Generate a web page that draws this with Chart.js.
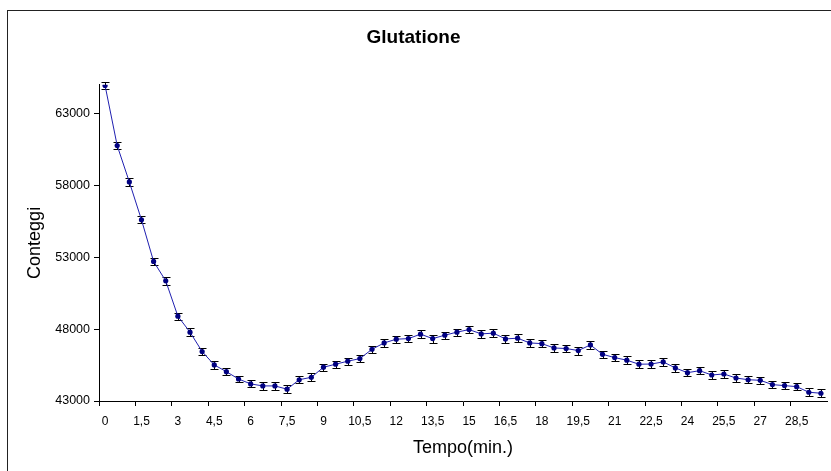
<!DOCTYPE html>
<html>
<head>
<meta charset="utf-8">
<script src="https://cdn.jsdelivr.net/npm/chart.js@4/dist/chart.umd.min.js"></script>
<style>
  html, body { margin: 0; padding: 0; background: #fff; overflow: hidden; }
  #wrap { position: relative; width: 831px; height: 471px; }
  #frame { position: absolute; left: 7px; top: 10px; width: 900px; height: 600px; border: 1px solid #222; box-sizing: border-box; }
  #grafico { position: absolute; left: 0; top: 0; }
</style>
</head>
<body>
<div id="wrap">
  <div id="frame"></div>
  <canvas id="grafico" width="831" height="471"></canvas>
</div>
<script>
// Tempo di acquisizione (min.)
const tempi = [0, 0.5, 1, 1.5, 2, 2.5, 3, 3.5, 4, 4.5, 5, 5.5, 6, 6.5, 7, 7.5, 8, 8.5, 9, 9.5,
  10, 10.5, 11, 11.5, 12, 12.5, 13, 13.5, 14, 14.5, 15, 15.5, 16, 16.5, 17, 17.5, 18, 18.5, 19, 19.5,
  20, 20.5, 21, 21.5, 22, 22.5, 23, 23.5, 24, 24.5, 25, 25.5, 26, 26.5, 27, 27.5, 28, 28.5, 29, 29.5];

// Conteggi medi
const conteggi = [64950, 60770, 58240, 55610, 52710, 51360, 48900, 47790, 46440, 45510,
  45040, 44530, 44190, 44050, 44050, 43820, 44480, 44650, 45350, 45560,
  45770, 45950, 46600, 47040, 47300, 47340, 47650, 47340, 47580, 47790,
  47970, 47670, 47720, 47320, 47370, 47040, 46990, 46690, 46650, 46510,
  46900, 46250, 46020, 45840, 45560, 45570, 45720, 45300, 44970, 45110,
  44810, 44880, 44600, 44480, 44440, 44140, 44070, 44000, 43610, 43540];

// Deviazione (barre d'errore)
const errori = [230, 260, 250, 240, 240, 260, 250, 260, 240, 260,
  250, 240, 240, 250, 250, 260, 250, 270, 250, 250,
  250, 250, 250, 250, 250, 260, 270, 280, 250, 250,
  260, 260, 270, 250, 260, 250, 260, 260, 260, 280,
  260, 240, 250, 260, 260, 280, 300, 280, 260, 250,
  260, 260, 250, 240, 250, 250, 240, 250, 260, 280];

const tickY = [43000, 48000, 53000, 58000, 63000];

// barre d'errore disegnate sotto i marker
const erroriPlugin = {
  id: 'errori',
  beforeDatasetsDraw(chart) {
    const ctx = chart.ctx;
    const meta = chart.getDatasetMeta(0);
    const y = chart.scales.y;
    ctx.save();
    ctx.strokeStyle = '#000';
    ctx.lineWidth = 1;
    meta.data.forEach((pt, i) => {
      const x = Math.round(pt.x) + 0.5;
      const yTop = Math.round(y.getPixelForValue(conteggi[i] + errori[i])) + 0.5;
      const yBot = Math.round(y.getPixelForValue(conteggi[i] - errori[i])) + 0.5;
      ctx.beginPath();
      ctx.moveTo(x, yTop);
      ctx.lineTo(x, yBot);
      ctx.moveTo(x - 4, yTop);
      ctx.lineTo(x + 4, yTop);
      ctx.moveTo(x - 4, yBot);
      ctx.lineTo(x + 4, yBot);
      ctx.stroke();
    });
    ctx.restore();
  }
};

new Chart(document.getElementById('grafico').getContext('2d'), {
  type: 'line',
  data: {
    labels: tempi,
    datasets: [{
      data: conteggi,
      borderColor: '#2020b0',
      borderWidth: 1,
      pointRadius: 2.6,
      pointBackgroundColor: '#000080',
      pointBorderColor: '#000080',
      pointBorderWidth: 0,
      tension: 0,
      fill: false
    }]
  },
  options: {
    responsive: false,
    animation: false,
    devicePixelRatio: 1,
    layout: { padding: { left: 0, right: 4, top: 0, bottom: 0 } },
    plugins: {
      legend: { display: false },
      tooltip: { enabled: false },
      title: {
        display: true,
        text: 'Glutatione',
        color: '#000',
        font: { family: 'Arial, "Liberation Sans", sans-serif', size: 19, weight: 'bold' },
        padding: { top: 26, bottom: 36 }
      }
    },
    scales: {
      x: {
        type: 'category',
        offset: true,
        grid: {
          offset: true,
          drawOnChartArea: false,
          drawTicks: true,
          tickLength: 5,
          color: ctx => (ctx.index % 3 === 0 ? '#000' : 'rgba(0,0,0,0)')
        },
        border: { display: true, color: '#000', width: 1 },
        ticks: {
          autoSkip: false,
          maxRotation: 0,
          padding: 8,
          color: '#000',
          font: { family: 'Arial, "Liberation Sans", sans-serif', size: 12 },
          callback: function(value, index) {
            return index % 3 === 0 ? String(tempi[index]).replace('.', ',') : '';
          }
        },
        title: {
          display: true,
          text: 'Tempo(min.)',
          color: '#000',
          font: { family: 'Arial, "Liberation Sans", sans-serif', size: 18 },
          padding: { top: 0, bottom: 12 }
        },
        afterFit: scale => { scale.height = 70; }
      },
      y: {
        min: 43000,
        max: 65000,
        grid: {
          drawOnChartArea: false,
          drawTicks: true,
          tickLength: 5,
          color: '#000'
        },
        border: { display: true, color: '#000', width: 1 },
        ticks: {
          padding: 4,
          color: '#000',
          font: { family: 'Arial, "Liberation Sans", sans-serif', size: 12.5 },
          callback: value => String(value)
        },
        afterBuildTicks: scale => { scale.ticks = tickY.map(v => ({ value: v })); },
        title: {
          display: true,
          text: 'Conteggi',
          color: '#000',
          font: { family: 'Arial, "Liberation Sans", sans-serif', size: 18 },
          padding: { top: 24, bottom: 0 }
        },
        afterFit: scale => { scale.width = 99; }
      }
    }
  },
  plugins: [erroriPlugin]
});
</script>
</body>
</html>
